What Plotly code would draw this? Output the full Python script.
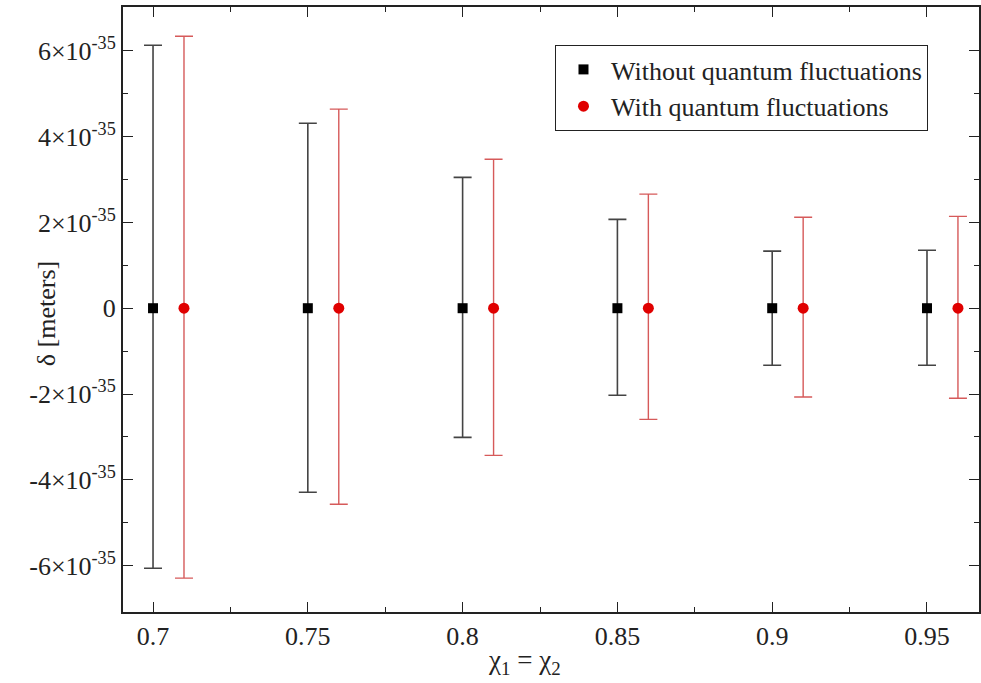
import plotly.graph_objects as go

# spin parameter chi_1 = chi_2 for each configuration
chi_without = [0.70, 0.75, 0.80, 0.85, 0.90, 0.95]
chi_with = [0.71, 0.76, 0.81, 0.86, 0.91, 0.96]

# central value of delta [m]
delta_without = [0, 0, 0, 0, 0, 0]
delta_with = [0, 0, 0, 0, 0, 0]

# uncertainty in delta [m], upper and lower
err_without_up = [6.13e-35, 4.31e-35, 3.05e-35, 2.07e-35, 1.33e-35, 1.35e-35]
err_without_dn = [6.06e-35, 4.29e-35, 3.01e-35, 2.03e-35, 1.33e-35, 1.33e-35]
err_with_up = [6.34e-35, 4.64e-35, 3.47e-35, 2.66e-35, 2.12e-35, 2.14e-35]
err_with_dn = [6.29e-35, 4.57e-35, 3.43e-35, 2.59e-35, 2.07e-35, 2.10e-35]

ytick_vals = [-6e-35, -4e-35, -2e-35, 0, 2e-35, 4e-35, 6e-35]
ytick_text = ["-6×10<sup>-35</sup>", "-4×10<sup>-35</sup>", "-2×10<sup>-35</sup>", "0",
              "2×10<sup>-35</sup>", "4×10<sup>-35</sup>", "6×10<sup>-35</sup>"]
xtick_vals = [0.70, 0.75, 0.80, 0.85, 0.90, 0.95]
xtick_text = ["0.7", "0.75", "0.8", "0.85", "0.9", "0.95"]

SERIF = "Liberation Serif, Times New Roman, serif"
INK = "#222222"

fig = go.Figure()
fig.add_trace(go.Scatter(
    x=chi_without, y=delta_without, mode="markers",
    name="Without quantum fluctuations",
    marker=dict(symbol="square", size=10, color="black"),
    error_y=dict(type="data", symmetric=False, array=err_without_up,
                 arrayminus=err_without_dn, color="#444444", thickness=1.6, width=9),
))
fig.add_trace(go.Scatter(
    x=chi_with, y=delta_with, mode="markers",
    name="With quantum fluctuations",
    marker=dict(symbol="circle", size=11, color="#e00000"),
    error_y=dict(type="data", symmetric=False, array=err_with_up,
                 arrayminus=err_with_dn, color="#d65a5a", thickness=1.4, width=9),
))

axis_common = dict(
    showline=True, linecolor=INK, linewidth=2, mirror="allticks",
    ticks="inside", ticklen=10, tickwidth=1.3, tickcolor=INK,
    showgrid=False, zeroline=False,
    tickfont=dict(family=SERIF, size=26, color=INK),
)

fig.update_xaxes(
    **axis_common, range=[0.6903, 0.9668],
    tickvals=xtick_vals, ticktext=xtick_text,
    minor=dict(ticks="inside", ticklen=5, tickwidth=1.3, tickcolor=INK,
               tick0=0.725, dtick=0.05),
)
fig.update_yaxes(
    **axis_common, range=[-7.08e-35, 7.02e-35],
    tickvals=ytick_vals, ticktext=ytick_text,
    minor=dict(ticks="inside", ticklen=5, tickwidth=1.3, tickcolor=INK,
               tickvals=[-5e-35, -3e-35, -1e-35, 1e-35, 3e-35, 5e-35]),
)

fig.add_annotation(
    text="χ<sub>1</sub> = χ<sub>2</sub>", xref="paper", yref="paper",
    x=(525 - 123) / 858, y=-50 / 605, xanchor="center", yanchor="middle",
    showarrow=False, font=dict(family=SERIF, size=27, color=INK),
)
fig.add_annotation(
    text="δ [meters]", xref="paper", yref="paper", textangle=-90,
    x=-(123 - 46) / 858, y=(612 - 314) / 605, xanchor="center", yanchor="middle",
    showarrow=False, font=dict(family=SERIF, size=26, color=INK),
)

fig.update_layout(
    width=981, height=683,
    margin=dict(l=123, r=0, t=7, b=71),
    paper_bgcolor="white", plot_bgcolor="white",
    showlegend=True,
    legend=dict(
        x=(556 - 123) / 858, y=(612 - 45) / 605, xanchor="left", yanchor="top",
        bordercolor=INK, borderwidth=1, bgcolor="white",
        font=dict(family=SERIF, size=26, color=INK),
        itemsizing="trace", tracegroupgap=0, itemwidth=45,
    ),
)

fig.write_html("out.html")
